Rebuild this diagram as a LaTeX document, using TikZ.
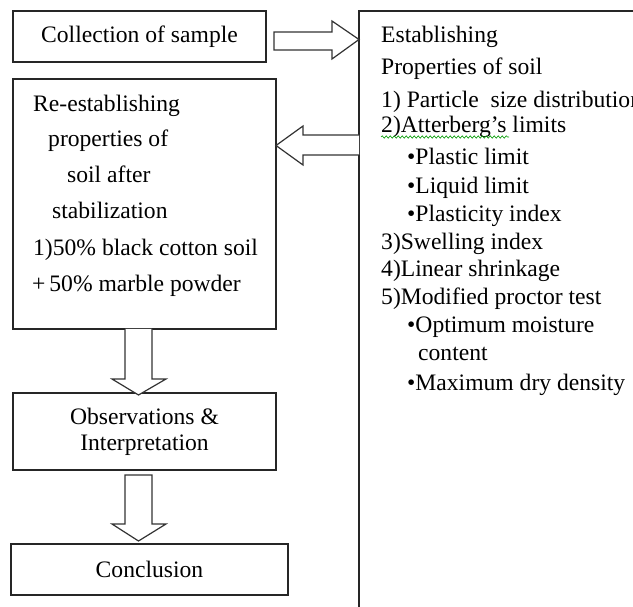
\documentclass[tikz,border=0pt]{standalone}
\usepackage{fontspec}
\setmainfont{Liberation Serif}
\usetikzlibrary{decorations.pathmorphing}

\begin{document}
\begin{tikzpicture}[
    x=1pt, y=-1pt,
    box/.style={draw=black!85, line width=1.3pt, inner sep=0pt},
    blockarrow/.style={draw=black!80, line width=1.2pt, fill=white, line join=miter},
    txt/.style={anchor=base west, inner sep=0pt},
    every node/.style={font=\fontsize{23.6}{26}\selectfont},
]
  \useasboundingbox (0,0) rectangle (633,607);
  \clip (0,0) rectangle (633,607);

  % left column
  \node[box, minimum width=253pt, minimum height=51pt] (sample) at (139.5,36.5) {Collection of sample};
  \node[box, minimum width=263pt, minimum height=250pt] (reest) at (144.5,204) {};
  \node[box, minimum width=263pt, minimum height=77pt, align=center] (obs) at (144.5,431.5) {Observations \&\\Interpretation};
  \node[box, minimum width=277pt, minimum height=51pt] (concl) at (149.5,569.5) {Conclusion};

  \foreach \x/\y/\t [count=\i] in {33/112/Re-establishing, 48/147/properties of, 67/183/soil after,
      52/219/stabilization, 33/256/1)50\% black cotton soil, 32/292/+\,50\% marble powder}
    \node[txt] (re\i) at (\x,\y) {\t};

  % right column
  \draw[box] (359,640) |- (660,11);
  \foreach \x/\y/\t [count=\i] in {381/43/Establishing, 381/75/Properties of soil,
      381/108/1) Particle\ \ size distribution, 381/133/2)Atterberg’s limits,
      407/165/\textbullet Plastic limit, 407/194/\textbullet Liquid limit,
      407/222/\textbullet Plasticity index, 381/250/3)Swelling index,
      381/277/4)Linear shrinkage, 381/305/5)Modified proctor test,
      407/333/\textbullet Optimum moisture, 418/361/content,
      407/390/\textbullet Maximum dry density}
    \node[txt] (est\i) at (\x,\y) {\t};
  \draw[green!60!black, line width=0.6pt, decorate,
        decoration={snake, amplitude=1.2pt, segment length=4pt}]
    ([yshift=-4pt]est4.base west) -- ++(128,0);

  % block arrows
  \draw[blockarrow] (274,32) -- (332,32) -- (332,21) -- (359,39.5) -- (332,59) -- (332,50) -- (274,50) -- cycle;
  \draw[blockarrow] (359,135) -- (303,135) -- (303,126) -- (276,145.5) -- (303,165) -- (303,155) -- (359,155);
  \draw[blockarrow] (125,329) -- (125,379) -- (112,379) -- (138.5,395) -- (166,379) -- (152,379) -- (152,329);
  \draw[blockarrow] (125,475) -- (125,524) -- (112,524) -- (138.5,541) -- (166,524) -- (152,524) -- (152,475) -- cycle;
\end{tikzpicture}
\end{document}
